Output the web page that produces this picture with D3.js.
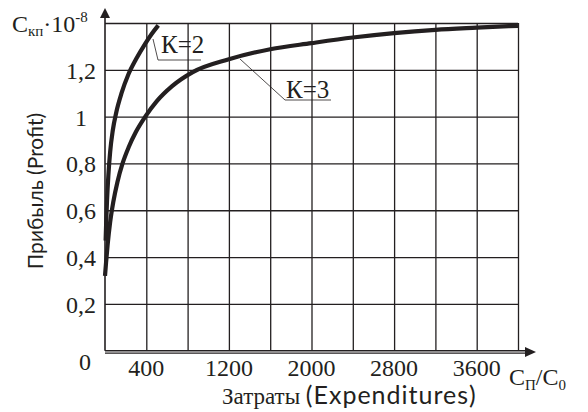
<!DOCTYPE html>
<html>
<head>
<meta charset="utf-8">
<script src="https://cdn.jsdelivr.net/npm/d3@7"></script>
<style>
  body { margin: 0; background: #fff; }
  svg { display: block; }
  .serif { font-family: "Liberation Serif", "Times New Roman", serif; fill: #231f20; }
  .sans { font-family: Lato, "Open Sans", sans-serif; fill: #231f20; }
</style>
</head>
<body>
<div id="chart"></div>
<script>
var wi = 588;
var he = 412;
var ink = "#231f20";

// curve K=2 : [expenditures, profit]
var k2X = [6, 12, 20, 32, 50, 75, 110, 160, 226, 300, 387, 450, 516];
var k2Y = [0.47, 0.555, 0.645, 0.745, 0.85, 0.94, 1.02, 1.1, 1.18, 1.245, 1.31, 1.352, 1.39];
// curve K=3
var k3X = [0, 10, 25, 50, 80, 120, 170, 230, 300, 390, 500, 650, 850, 1200, 1600, 2000, 2400, 2800, 3200, 3600, 4000];
var k3Y = [0.32, 0.375, 0.45, 0.55, 0.635, 0.72, 0.8, 0.87, 0.935, 1.0, 1.065, 1.13, 1.19, 1.245, 1.288, 1.314, 1.338, 1.357, 1.371, 1.38, 1.388];

var xTickLabels = [400, 1200, 2000, 2800, 3600];
var yTickLabels = ["0,2", "0,4", "0,6", "0,8", "1", "1,2"];
var yTickValues = [0.2, 0.4, 0.6, 0.8, 1.0, 1.2];

var xScale = d3.scaleLinear().domain([0, 4000]).range([105, 518]);
var yScale = d3.scaleLinear().domain([0, 1.4]).range([350.7, 23]);

var svg = d3.select("#chart").append("svg")
    .attr("width", wi)
    .attr("height", he);

// grid
var xGrid = d3.axisBottom(xScale)
    .tickValues(d3.range(400, 4001, 400))
    .tickSize(-(yScale(0) - yScale(1.4)))
    .tickFormat("");
svg.append("g")
    .attr("transform", "translate(0," + yScale(0) + ")")
    .call(xGrid)
    .call(function(g) { g.select(".domain").remove(); })
    .selectAll("line").attr("stroke", ink).attr("stroke-width", 1.3);

var yGrid = d3.axisLeft(yScale)
    .tickValues(d3.range(0.2, 1.41, 0.2))
    .tickSize(-(xScale(4000) - xScale(0)))
    .tickFormat("");
svg.append("g")
    .attr("transform", "translate(" + xScale(0) + ",0)")
    .call(yGrid)
    .call(function(g) { g.select(".domain").remove(); })
    .selectAll("line").attr("stroke", ink).attr("stroke-width", 1.3);

// axes with arrows
svg.append("line")
    .attr("x1", xScale(0)).attr("y1", yScale(0))
    .attr("x2", xScale(0)).attr("y2", 14)
    .attr("stroke", ink).attr("stroke-width", 1.6);
svg.append("path")
    .attr("d", "M" + xScale(0) + ",8 L" + (xScale(0) - 5) + ",18 L" + (xScale(0) + 5) + ",18 Z")
    .attr("fill", ink);

svg.append("line")
    .attr("x1", xScale(0)).attr("y1", yScale(0))
    .attr("x2", 528).attr("y2", yScale(0))
    .attr("stroke", ink).attr("stroke-width", 1.4);
svg.append("line")
    .attr("x1", xScale(0)).attr("y1", yScale(0) + 2.4)
    .attr("x2", 528).attr("y2", yScale(0) + 2.4)
    .attr("stroke", ink).attr("stroke-width", 1.2);
svg.append("path")
    .attr("d", "M536," + (yScale(0) + 1.2) + " L525," + (yScale(0) - 3.8) + " L525," + (yScale(0) + 6.2) + " Z")
    .attr("fill", ink);

// tick labels
svg.selectAll(".xlab")
    .data(xTickLabels)
    .enter().append("text")
    .attr("class", "serif")
    .attr("x", function(d) { return xScale(d); })
    .attr("y", 376)
    .attr("text-anchor", "middle")
    .attr("font-size", 24)
    .text(function(d) { return d; });

svg.selectAll(".ylab")
    .data(yTickValues)
    .enter().append("text")
    .attr("class", "serif")
    .attr("x", 81)
    .attr("y", function(d) { return yScale(d) + 9; })
    .attr("text-anchor", "middle")
    .attr("font-size", 24)
    .text(function(d, i) { return yTickLabels[i]; });

svg.append("text")
    .attr("class", "serif")
    .attr("x", 85).attr("y", 370)
    .attr("text-anchor", "middle")
    .attr("font-size", 24)
    .text("0");

// curves
var line = d3.line()
    .x(function(d) { return xScale(d[0]); })
    .y(function(d) { return yScale(d[1]); })
    .curve(d3.curveMonotoneX);

svg.append("path")
    .datum(d3.zip(k2X, k2Y))
    .attr("d", line)
    .attr("fill", "none")
    .attr("stroke", ink)
    .attr("stroke-width", 4.2);

svg.append("path")
    .datum(d3.zip(k3X, k3Y))
    .attr("d", line)
    .attr("fill", "none")
    .attr("stroke", ink)
    .attr("stroke-width", 4.2);

// curve labels with leaders
svg.append("path")
    .attr("d", "M153,39 L158,60 L201,60")
    .attr("fill", "none").attr("stroke", ink).attr("stroke-width", 0.8);
svg.append("text")
    .attr("class", "serif")
    .attr("x", 161).attr("y", 53)
    .attr("font-size", 25)
    .text("К=2");

svg.append("path")
    .attr("d", "M240,59 L285,100 L331,100")
    .attr("fill", "none").attr("stroke", ink).attr("stroke-width", 0.8);
svg.append("text")
    .attr("class", "serif")
    .attr("x", 286).attr("y", 98)
    .attr("font-size", 25)
    .text("К=3");

// y unit
var yu = svg.append("text").attr("class", "serif").attr("x", 12).attr("y", 32).attr("font-size", 24);
yu.append("tspan").text("C");
yu.append("tspan").attr("font-size", 15).attr("dy", 4).text("кп");
yu.append("tspan").attr("dy", -4).text("·10");
yu.append("tspan").attr("font-size", 15).attr("dy", -10).text("-8");

// x unit
var xu = svg.append("text").attr("class", "serif").attr("x", 509).attr("y", 385).attr("font-size", 24);
xu.append("tspan").text("C");
xu.append("tspan").attr("font-size", 15).attr("dy", 5).text("П");
xu.append("tspan").attr("dy", -5).text("/C");
xu.append("tspan").attr("font-size", 15).attr("dy", 5).text("0");

// axis titles
var xt = svg.append("text").attr("x", 222).attr("y", 404).attr("font-size", 23);
xt.append("tspan").attr("class", "serif").text("Затраты ");
xt.append("tspan").attr("class", "sans").attr("font-size", 25)
    .attr("letter-spacing", 1).text("(Expenditures)");

svg.append("text")
    .attr("class", "sans")
    .attr("transform", "translate(43,191) rotate(-90)")
    .attr("text-anchor", "middle")
    .attr("font-size", 21)
    .text("Прибыль (Profit)");
</script>
</body>
</html>
